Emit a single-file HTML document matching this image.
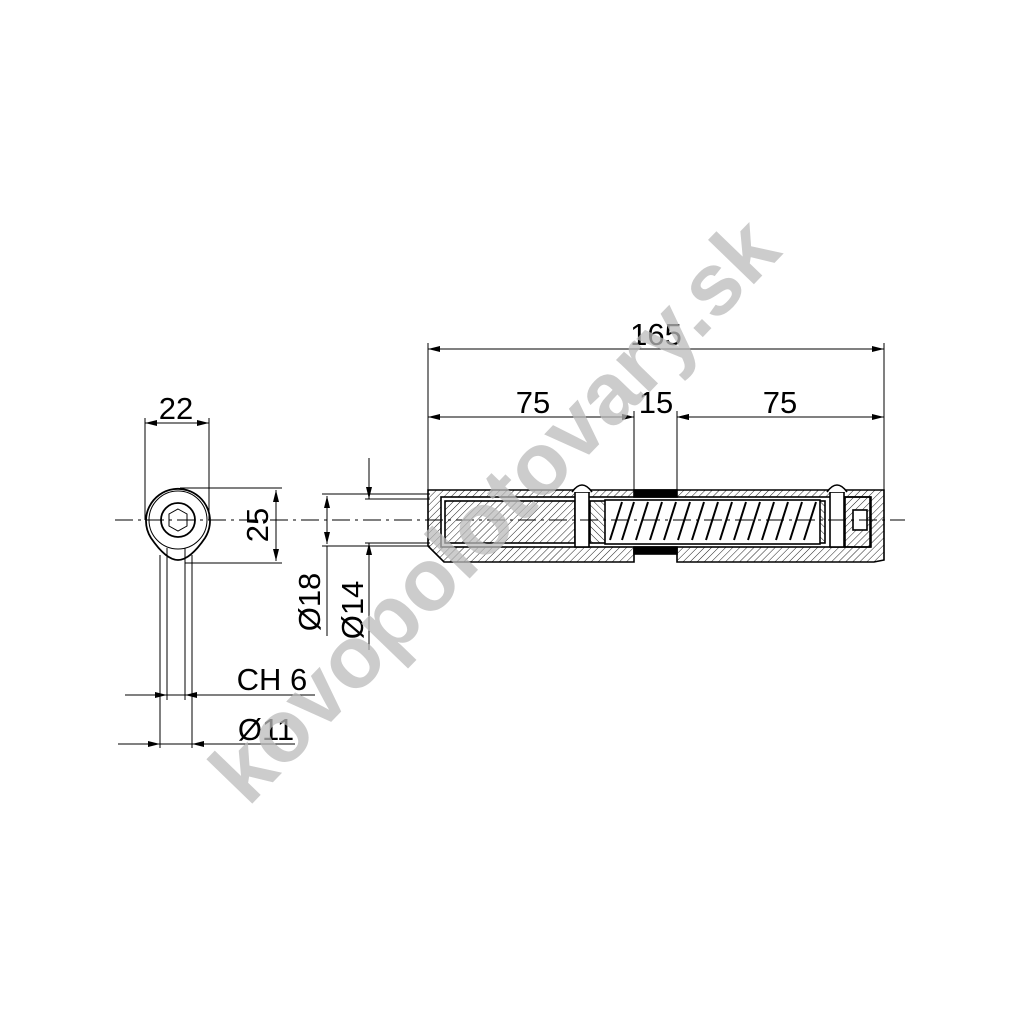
<!DOCTYPE html>
<html><head><style>body{margin:0;background:#fff}svg{display:block}</style></head><body>
<svg width="1024" height="1024" viewBox="0 0 1024 1024" xmlns="http://www.w3.org/2000/svg" font-family="Liberation Sans, sans-serif">
<defs>
<pattern id="h" width="5" height="5" patternUnits="userSpaceOnUse" patternTransform="rotate(45)"><line x1="0" y1="0" x2="0" y2="5" stroke="#222" stroke-width="1"/></pattern>
<pattern id="h2" width="5" height="5" patternUnits="userSpaceOnUse" patternTransform="rotate(-45)"><line x1="0" y1="0" x2="0" y2="5" stroke="#222" stroke-width="1"/></pattern>
<marker id="a" viewBox="0 0 12 6" refX="12" refY="3" markerWidth="14" markerHeight="6" orient="auto-start-reverse" markerUnits="userSpaceOnUse"><path d="M0,0L12,3L0,6z" fill="#000"/></marker>
</defs>
<rect width="1024" height="1024" fill="#fff"/>
<g stroke="#000" stroke-width="1" fill="none">
<line x1="115" y1="520" x2="905" y2="520" stroke-dasharray="18,5,3,5"/>
<path d="M146,520 A32,32 0 1 1 205,538 Q190,560 178,560 Q166,560 151,538 A32,32 0 0 1 146,520z" stroke-width="1.8"/>
<circle cx="178" cy="520" r="29"/>
<circle cx="178" cy="520" r="17" stroke-width="1.8"/>
<polygon points="178,509 187,514 187,526 178,531 169,526 169,514"/>
<line x1="160" y1="555" x2="160" y2="748"/><line x1="167" y1="548" x2="167" y2="700"/>
<line x1="185" y1="548" x2="185" y2="700"/><line x1="192" y1="555" x2="192" y2="748"/>
<line x1="145" y1="418" x2="145" y2="520"/><line x1="209" y1="418" x2="209" y2="520"/>
<line x1="145" y1="423" x2="209" y2="423"/>
<line x1="160" y1="423" x2="145" y2="423" marker-end="url(#a)"/><line x1="194" y1="423" x2="209" y2="423" marker-end="url(#a)"/>
<line x1="180" y1="488" x2="282" y2="488"/><line x1="185" y1="563" x2="282" y2="563"/>
<line x1="276" y1="490" x2="276" y2="561" marker-start="url(#a)" marker-end="url(#a)"/>
<line x1="322" y1="494" x2="430" y2="494"/><line x1="322" y1="546" x2="430" y2="546"/>
<line x1="327" y1="496" x2="327" y2="544" marker-start="url(#a)" marker-end="url(#a)"/>
<line x1="327" y1="546" x2="327" y2="636"/>
<line x1="365" y1="499" x2="430" y2="499"/><line x1="365" y1="543" x2="430" y2="543"/>
<line x1="369" y1="458" x2="369" y2="499" marker-end="url(#a)"/>
<line x1="369" y1="650" x2="369" y2="543" marker-end="url(#a)"/>
<line x1="125" y1="695" x2="315" y2="695"/>
<line x1="148" y1="695" x2="167" y2="695" marker-end="url(#a)"/><line x1="204" y1="695" x2="185" y2="695" marker-end="url(#a)"/>
<line x1="118" y1="744" x2="295" y2="744"/>
<line x1="140" y1="744" x2="160" y2="744" marker-end="url(#a)"/><line x1="212" y1="744" x2="192" y2="744" marker-end="url(#a)"/>
<line x1="428" y1="343" x2="428" y2="490"/><line x1="884" y1="343" x2="884" y2="490"/>
<line x1="634" y1="411" x2="634" y2="490"/><line x1="677" y1="411" x2="677" y2="490"/>
<line x1="428" y1="349" x2="884" y2="349" marker-start="url(#a)" marker-end="url(#a)"/>
<line x1="428" y1="417" x2="634" y2="417" marker-start="url(#a)" marker-end="url(#a)"/>
<line x1="677" y1="417" x2="884" y2="417" marker-start="url(#a)" marker-end="url(#a)"/>
<line x1="614" y1="417" x2="634" y2="417" marker-end="url(#a)"/><line x1="697" y1="417" x2="677" y2="417" marker-end="url(#a)"/>
</g>
<g stroke="#000" stroke-width="1.6">
<path d="M428,490 H884 V560 L874,562 H677 V548 H634 V562 H444 L428,546 Z" fill="url(#h)"/>
<rect x="441" y="497" width="430" height="50" fill="#fff"/>
<rect x="445" y="501" width="130" height="42" fill="url(#h)"/>
<rect x="590" y="501" width="235" height="42" fill="url(#h2)"/>
<rect x="605" y="500" width="215" height="44" fill="#fff"/>
<rect x="634" y="490" width="43" height="7" fill="#000"/>
<rect x="634" y="547" width="43" height="7" fill="#000"/>
<rect x="575" y="492" width="14" height="55" fill="#fff"/>
<path d="M572,492 Q582,478 592,492" fill="#fff"/>
<rect x="830" y="492" width="14" height="55" fill="#fff"/>
<path d="M827,492 Q837,478 847,492" fill="#fff"/>
<rect x="845" y="497" width="25" height="50" fill="url(#h)"/>
<rect x="853" y="510" width="14" height="20" fill="#fff"/>
</g>
<g stroke="#000" stroke-width="2" fill="none">
<path d="M610,540 L622,502 M622,540 L634,502 M636,540 L648,502 M650,540 L662,502 M664,540 L676,502 M678,540 L690,502 M692,540 L704,502 M706,540 L718,502 M720,540 L732,502 M734,540 L746,502 M748,540 L760,502 M762,540 L774,502 M776,540 L788,502 M790,540 L802,502 M804,540 L816,502"/>
</g>
<line x1="115" y1="520" x2="905" y2="520" stroke="#000" stroke-dasharray="18,5,3,5"/>
<g font-size="31" fill="#000" text-anchor="middle">
<text x="176" y="419">22</text>
<text x="656" y="345">165</text>
<text x="533" y="413">75</text>
<text x="656" y="413">15</text>
<text x="780" y="413">75</text>
<text x="272" y="690">CH 6</text>
<text x="266" y="740">Ø11</text>
<text transform="translate(268,525) rotate(-90)">25</text>
<text transform="translate(320,602) rotate(-90)">Ø18</text>
<text transform="translate(363,610) rotate(-90)">Ø14</text>
</g>
<text transform="translate(248,808) rotate(-46)" font-size="88" font-weight="bold" fill="#bbb" fill-opacity="0.75">kovopolotovary.sk</text>
</svg>
</body></html>
